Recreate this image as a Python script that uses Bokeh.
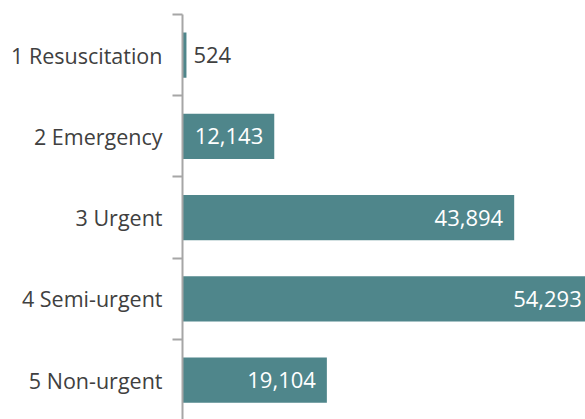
from bokeh.plotting import figure
from bokeh.models import ColumnDataSource, Range1d, FixedTicker, LinearAxis
from bokeh.core.properties import value
from bokeh.embed import file_html
from bokeh.resources import INLINE

categories = ["1 Resuscitation", "2 Emergency", "3 Urgent", "4 Semi-urgent", "5 Non-urgent"]
counts = [524, 12143, 43894, 54293, 19104]

n = len(categories)
ypos = [n - i for i in range(n)]          # top-to-bottom order
labels = [f"{v:,}" for v in counts]
x_max = 53330
inside = [v > 0.1 * x_max for v in counts]

src_in = ColumnDataSource(dict(
    y=[y for y, f in zip(ypos, inside) if f],
    x=[v for v, f in zip(counts, inside) if f],
    t=[l for l, f in zip(labels, inside) if f]))
src_out = ColumnDataSource(dict(
    y=[y for y, f in zip(ypos, inside) if not f],
    x=[v for v, f in zip(counts, inside) if not f],
    t=[l for l, f in zip(labels, inside) if not f]))
src = ColumnDataSource(dict(y=ypos, x=counts))

p = figure(width=585, height=419, output_backend="svg", toolbar_location=None,
           x_range=Range1d(0, x_max), y_range=Range1d(0.515, n + 0.5),
           x_axis_location=None, y_axis_location=None)
p.min_border_left = 182
p.min_border_right = 0
p.min_border_top = 14
p.min_border_bottom = 0
p.outline_line_color = None
p.background_fill_color = "white"
p.border_fill_color = "white"
p.xgrid.visible = False
p.ygrid.visible = False

p.hbar(y="y", right="x", left=0, height=0.555, source=src,
       fill_color="#4F868B", line_color=None)

p.text(x="x", y="y", text="t", source=src_in, text_align="right",
       text_baseline="middle", x_offset=-11, text_color="white",
       text_font=value("Open Sans"), text_font_size="22px")
p.text(x="x", y="y", text="t", source=src_out, text_align="left",
       text_baseline="middle", x_offset=7, text_color="#404040",
       text_font=value("Open Sans"), text_font_size="22px")

yaxis = LinearAxis(
    ticker=FixedTicker(ticks=ypos, minor_ticks=[y + 0.5 for y in ypos] + [0.5]),
    major_label_overrides={y: c for y, c in zip(ypos, categories)},
    major_tick_out=0, major_tick_in=0,
    minor_tick_out=10, minor_tick_in=0,
    minor_tick_line_color="#A6A6A6", minor_tick_line_width=2,
    axis_line_color="#A6A6A6", axis_line_width=2,
    major_label_standoff=10,
    major_label_text_font="Open Sans", major_label_text_font_size="21.5px",
    major_label_text_color="#404040")
p.add_layout(yaxis, "left")

open("out.html", "w").write(file_html(p, INLINE))
